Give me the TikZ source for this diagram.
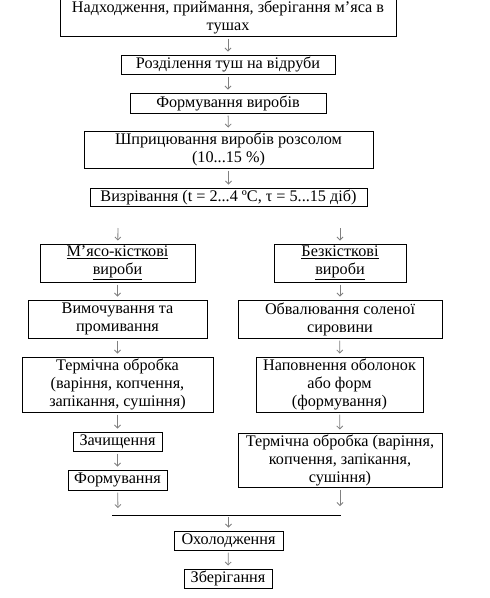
\documentclass[tikz,border=0pt]{standalone}
\usepackage{fontspec}
\setmainfont{Liberation Serif}
\usetikzlibrary{arrows.meta}
\begin{document}
\begin{tikzpicture}[x=1pt,y=-1pt,
  box/.style={draw=black,line width=1pt,inner sep=0pt,align=center,
    font=\fontsize{16.2}{18}\selectfont},
  arr/.style={draw=black!50,line width=0.8pt,-{Straight Barb[length=3pt,width=6pt]},
    shorten <=2pt,shorten >=3pt}]
\useasboundingbox (0,0) rectangle (490,598);
\node[box,minimum width=336pt,minimum height=37pt] (b1) at (228,17.5)
  {Надходження, приймання, зберігання м’яса в\\тушах};
\node[box,minimum width=214pt,minimum height=19pt] (b2) at (228,64.5)
  {Розділення туш на відруби};
\node[box,minimum width=196pt,minimum height=20pt] (b3) at (228,103)
  {Формування виробів};
\node[box,minimum width=289pt,minimum height=37pt] (b4) at (228.5,149.5)
  {Шприцювання виробів розсолом\\(10...15 \%)};
\node[box,minimum width=277pt,minimum height=18pt] (b5) at (228.5,197)
  {Визрівання (t = 2...4 ºС, τ = 5...15 діб)};
\node[box,minimum width=155pt,minimum height=38pt] (l1) at (117.5,263)
  {\underline{М’ясо-кісткові}\\\underline{вироби}};
\node[box,minimum width=132pt,minimum height=38pt] (r1) at (340,263)
  {\underline{Безкісткові}\\\underline{вироби}};
\node[box,minimum width=179pt,minimum height=38pt] (l2) at (117.5,319)
  {Вимочування та\\промивання};
\node[box,minimum width=204pt,minimum height=38pt] (r2) at (340,319)
  {Обвалювання соленої\\сировини};
\node[box,minimum width=191pt,minimum height=55pt] (l3) at (117.5,384.5)
  {Термічна обробка\\(варіння, копчення,\\запікання, сушіння)};
\node[box,minimum width=167pt,minimum height=55pt] (r3) at (339.5,384.5)
  {Наповнення оболонок\\або форм\\(формування)};
\node[box,minimum width=89pt,minimum height=19pt] (l4) at (117.5,441.5)
  {Зачищення};
\node[box,minimum width=204pt,minimum height=54pt] (r4) at (340,460)
  {Термічна обробка (варіння,\\копчення, запікання,\\сушіння)};
\node[box,minimum width=99pt,minimum height=20pt] (l5) at (117.5,480)
  {Формування};
\node[box,minimum width=109pt,minimum height=19pt] (c1) at (228.5,540.5)
  {Охолодження};
\node[box,minimum width=88pt,minimum height=19pt] (c2) at (228,578.5)
  {Зберігання};
\coordinate (sl) at (118,226);
\coordinate (sr) at (340,226);
\coordinate (el) at (118,511);
\coordinate (er) at (340,509);
\coordinate (ja) at (112,515);
\coordinate (jb) at (341,515);
\coordinate (jc) at (228.5,515);
\draw[arr] (b1) -- (b2);
\draw[arr] (b2) -- (b3);
\draw[arr] (b3) -- (b4);
\draw[arr] (b4) -- (b5);
\draw[arr] (sl) -- (l1);
\draw[arr] (sr) -- (r1);
\draw[arr] (l1) -- (l2);
\draw[arr] (r1) -- (r2);
\draw[arr] (l2) -- (l3);
\draw[arr] (r2) -- (r3);
\draw[arr] (l3) -- (l4);
\draw[arr] (r3) -- (r4);
\draw[arr] (l4) -- (l5);
\draw[arr] (l5) -- (el);
\draw[arr] (r4) -- (er);
\draw[line width=1pt] (ja) -- (jb);
\draw[arr] (jc) -- (c1);
\draw[arr] (c1) -- (c2);
\end{tikzpicture}
\end{document}
